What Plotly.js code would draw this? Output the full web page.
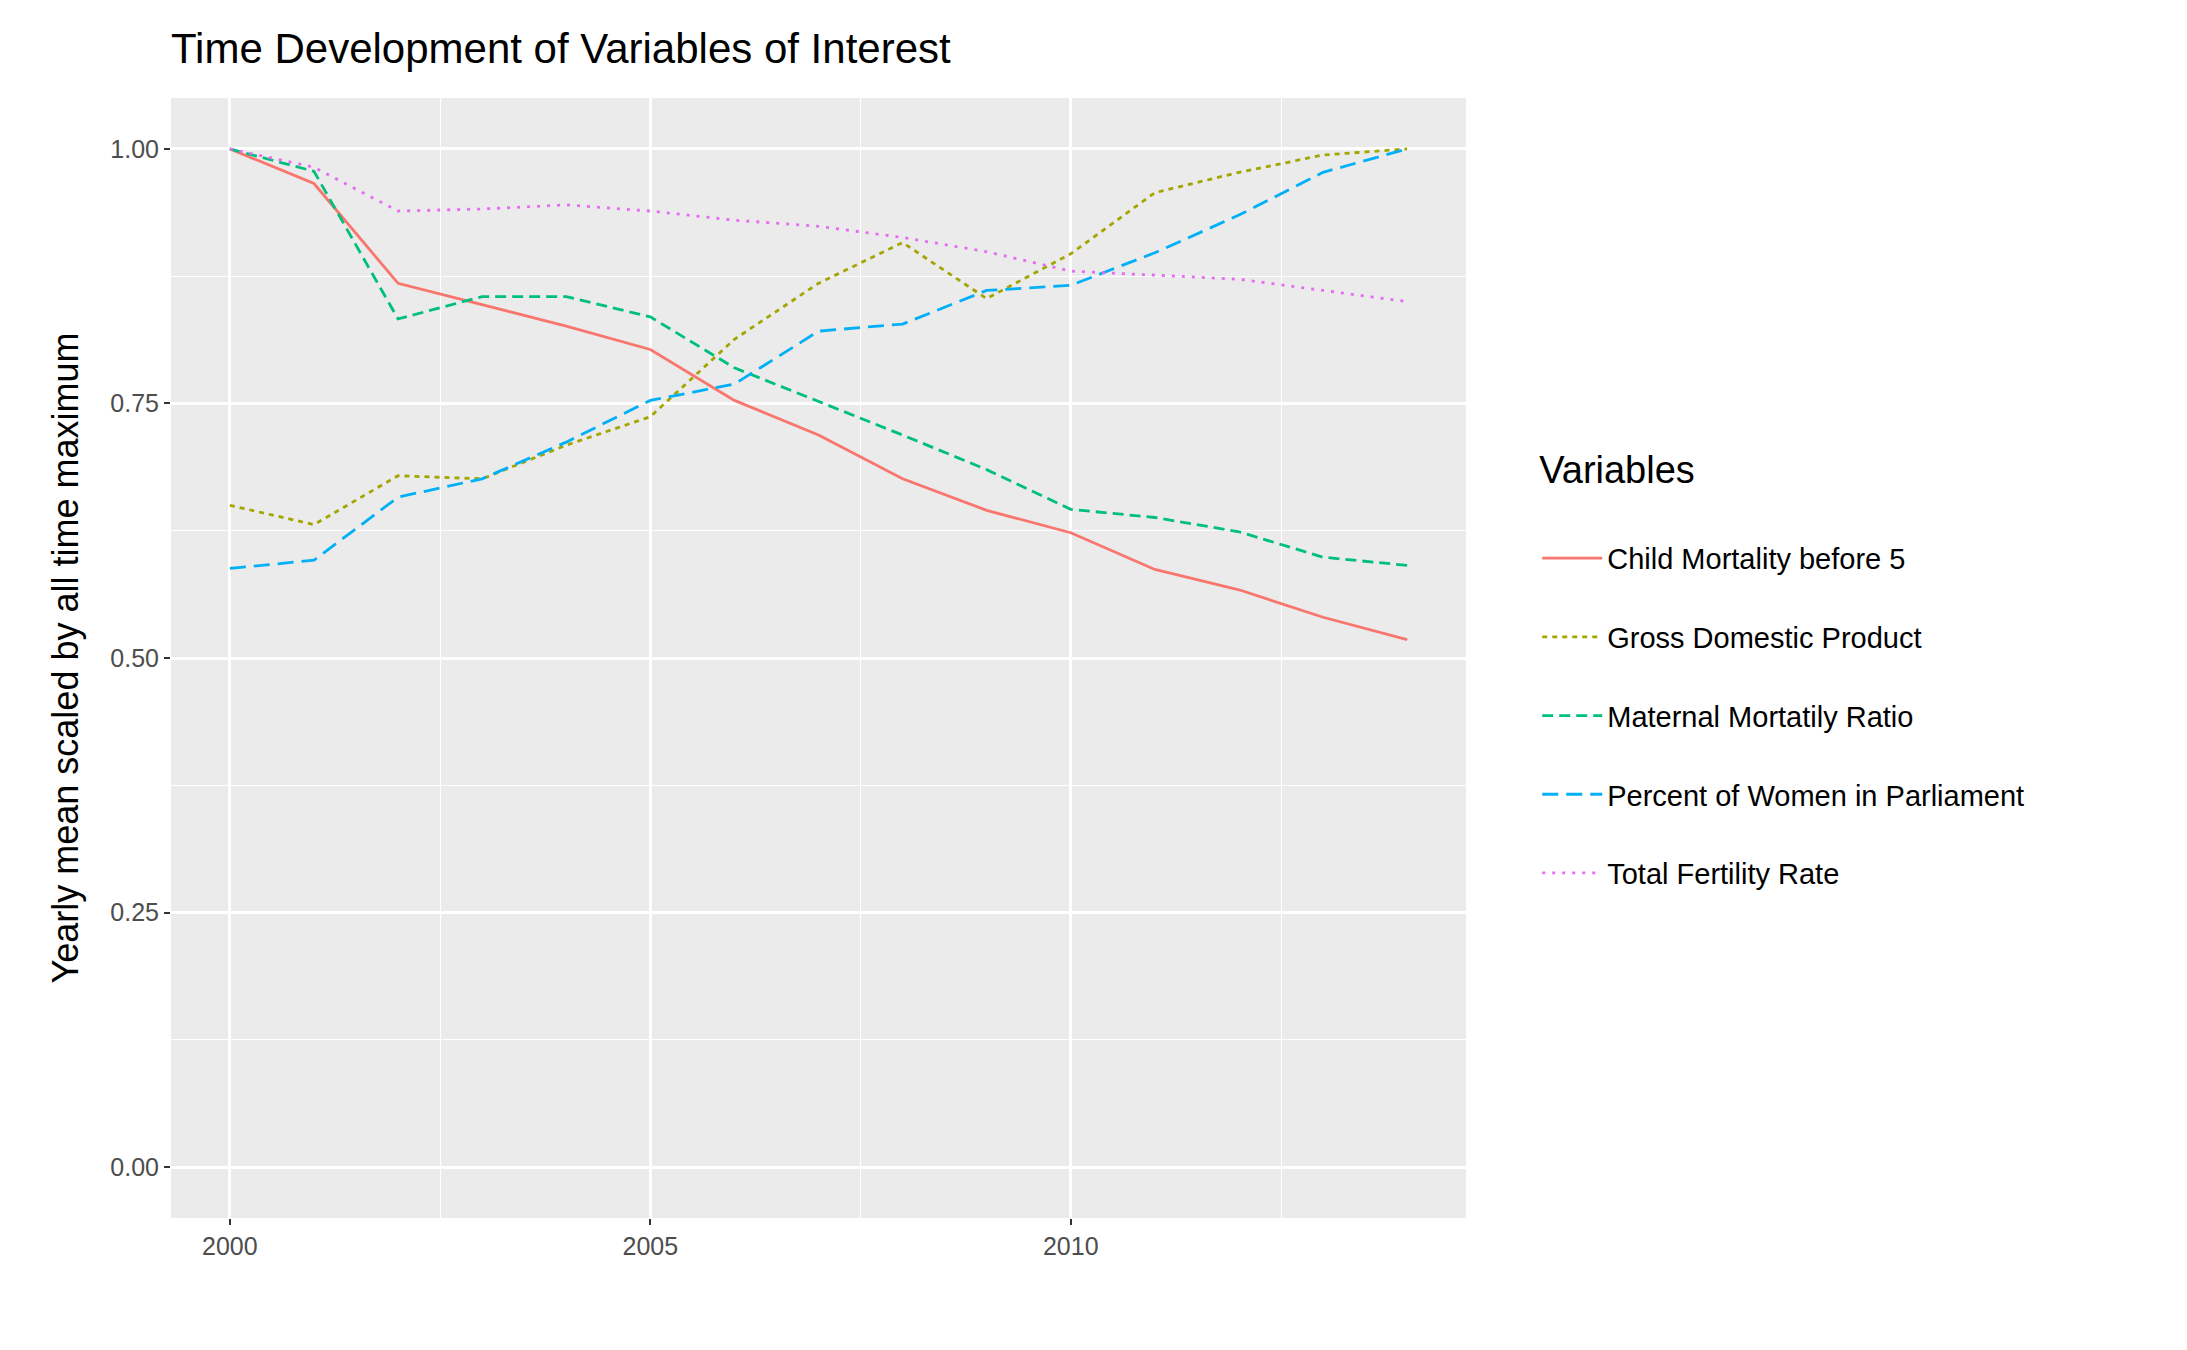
<!DOCTYPE html>
<html>
<head>
<meta charset="utf-8">
<script src="https://cdn.plot.ly/plotly-3.0.1.min.js"></script>
<style>body{margin:0;background:#fff}#chart{width:2187px;height:1350px}</style>
</head>
<body>
<div id="chart"></div>
<script>
// values
var years = [2000,2001,2002,2003,2004,2005,2006,2007,2008,2009,2010,2011,2012,2013,2014];
var childMortality = [1.0,0.966,0.868,0.847,0.826,0.803,0.753,0.719,0.676,0.645,0.623,0.587,0.567,0.540,0.518];
var gdp = [0.650,0.631,0.679,0.676,0.709,0.737,0.813,0.868,0.908,0.853,0.897,0.957,0.977,0.994,1.0];
var maternalMortality = [1.0,0.978,0.833,0.855,0.855,0.835,0.785,0.752,0.719,0.685,0.646,0.638,0.624,0.599,0.591];
var womenParliament = [0.588,0.596,0.658,0.676,0.712,0.753,0.769,0.821,0.828,0.861,0.866,0.898,0.935,0.977,1.0];
var fertility = [1.0,0.982,0.939,0.941,0.945,0.939,0.930,0.924,0.913,0.899,0.880,0.876,0.872,0.861,0.850];

var names = ['Child Mortality before 5','Gross Domestic Product','Maternal Mortatily Ratio','Percent of Women in Parliament','Total Fertility Rate'];
var series = [childMortality, gdp, maternalMortality, womenParliament, fertility];
var colors = ['#F8766D','#A3A500','#00BF7D','#00B0F6','#E76BF3'];
var dashes = ['solid','5px,5px','11px,6px','16px,8px','3px,7px'];

var plotData = series.map(function(s, i) {
  return {
    x: years, y: s, name: names[i], type: 'scatter', mode: 'lines', legendgroup: 'g' + i,
    line: {color: colors[i], width: 2.8, dash: dashes[i]}
  };
});

var layout = {
  width: 2187, height: 1350,
  font: {family: 'Liberation Sans, Arial, sans-serif', color: '#000'},
  paper_bgcolor: '#fff', plot_bgcolor: '#EBEBEB',
  margin: {l: 171, r: 721, t: 98, b: 132},
  title: {text: 'Time Development of Variables of Interest', font: {size: 42}, x: 171/2187, xanchor: 'left', y: 0.975, yanchor: 'top'},
  xaxis: {
    range: [1999.3, 2014.7], tickvals: [2000,2005,2010], ticks: 'outside', ticklen: 6, tickcolor: '#333', tickwidth: 2,
    tickfont: {size: 25, color: '#4D4D4D'}, showgrid: true, gridcolor: '#fff', gridwidth: 2.5, zeroline: false,
    minor: {tickvals: [2002.5,2007.5,2012.5], showgrid: true, gridcolor: '#fff', gridwidth: 1.2}
  },
  yaxis: {
    range: [-0.05, 1.05], tickvals: [0,0.25,0.5,0.75,1], ticktext: ['0.00','0.25','0.50','0.75','1.00'],
    ticks: 'outside', ticklen: 6, tickcolor: '#333', tickwidth: 2,
    tickfont: {size: 25, color: '#4D4D4D'}, showgrid: true, gridcolor: '#fff', gridwidth: 2.5, zeroline: false,
    minor: {tickvals: [0.125,0.375,0.625,0.875], showgrid: true, gridcolor: '#fff', gridwidth: 1.2},
    title: {text: 'Yearly mean scaled by all time maximum', font: {size: 36}, standoff: 20}
  },
  legend: {
    x: 1.055, xanchor: 'left', y: 0.7, yanchor: 'top',
    title: {text: 'Variables<br> ', font: {size: 38}},
    font: {size: 29}, tracegroupgap: 38, itemwidth: 60, bgcolor: 'rgba(0,0,0,0)'
  }
};

Plotly.newPlot('chart', plotData, layout, {displayModeBar: false});
</script>
</body>
</html>
